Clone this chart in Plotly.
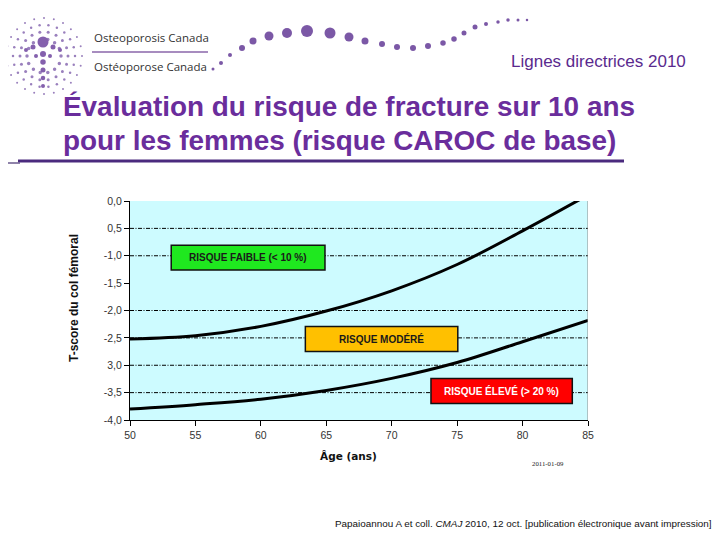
import math
import plotly.graph_objects as go

# ---------------- data ----------------
ages = [50, 55, 60, 65, 70, 75, 80, 85]
tscore_upper = [-2.52, -2.46, -2.29, -2.01, -1.64, -1.16, -0.545, 0.11]  # 10 % threshold
tscore_lower = [-3.80, -3.72, -3.62, -3.46, -3.24, -2.95, -2.57, -2.18]  # 20 % threshold

x_ticks = [50, 55, 60, 65, 70, 75, 80, 85]
y_ticks = [0.0, -0.5, -1.0, -1.5, -2.0, -2.5, -3.0, -3.5, -4.0]
y_ticklabels = ["0,0", "0,5", "-1,0", "-1,5", "-2,0", "-2,5", "3,0", "-3,5", "-4,0"]
grid_values = [-0.5, -1.0, -2.0, -2.5, -3.0, -3.5]

zone_labels = ["RISQUE FAIBLE (< 10 %)", "RISQUE MODÉRÉ", "RISQUE ÉLEVÉ (> 20 %)"]
zone_age_start = [53.15, 63.4, 73.0]
zone_age_end = [64.9, 75.05, 83.8]
zone_t_top = [-0.81, -2.29, -3.24]
zone_t_bottom = [-1.26, -2.75, -3.70]
zone_fill = ["#1fe81f", "#ffc000", "#ff0000"]
zone_text = ["#1a1a1a", "#1a1a1a", "#ffffff"]

# page is offset by the browser's 8px body margin
OFF = 8
W, H = 720 - OFF, 540 - OFF


def px(x):
    return (x - OFF) / W


def py(y):
    return 1 - (y - OFF) / H


fig = go.Figure()

fig.add_trace(go.Scatter(x=ages, y=tscore_upper, mode="lines", line=dict(color="black", width=3, shape="spline"),
                         hoverinfo="skip", showlegend=False))
fig.add_trace(go.Scatter(x=ages, y=tscore_lower, mode="lines", line=dict(color="black", width=3, shape="spline"),
                         hoverinfo="skip", showlegend=False))

shapes = []
for g in grid_values:
    shapes.append(dict(type="line", xref="x", yref="y", x0=50, x1=85, y0=g, y1=g,
                       line=dict(color="black", width=1, dash="4px,1.5px,1px,1.5px"), layer="below"))
# right border
shapes.append(dict(type="line", xref="x", yref="y", x0=85, x1=85, y0=-4, y1=0,
                   line=dict(color="#8a8a8a", width=1)))

annotations = []
for lab, x0, x1, y0, y1, fc, tc in zip(zone_labels, zone_age_start, zone_age_end, zone_t_top, zone_t_bottom,
                                       zone_fill, zone_text):
    shapes.append(dict(type="rect", xref="x", yref="y", x0=x0, x1=x1, y0=y1, y1=y0,
                       fillcolor=fc, line=dict(color="#111111", width=1.5), layer="above"))
    annotations.append(dict(x=(x0 + x1) / 2, y=(y0 + y1) / 2, xref="x", yref="y", text="<b>" + lab + "</b>",
                            showarrow=False, font=dict(family="Liberation Sans Narrow, Liberation Sans, Arial",
                                                       size=10, color=tc)))

# ---------------- header / decoration ----------------
title_color = "#6a2d9c"
annotations += [
    dict(x=px(688), y=py(62), xref="paper", yref="paper", xanchor="right", yanchor="middle",
         text="Lignes directrices 2010", showarrow=False,
         font=dict(family="Liberation Sans, Arial", size=17, color="#5a2a8e")),
    dict(x=px(61), y=py(106), xref="paper", yref="paper", xanchor="left",
         yanchor="middle", text="<b>Évaluation du risque de fracture sur 10 ans</b>",
         showarrow=False, font=dict(family="Liberation Sans, Arial", size=27.9, color=title_color)),
    dict(x=px(61), y=py(140), xref="paper", yref="paper", xanchor="left",
         yanchor="middle", text="<b>pour les femmes (risque CAROC de base)</b>",
         showarrow=False, font=dict(family="Liberation Sans, Arial", size=27.9, color=title_color)),
    dict(x=px(92), y=py(38), xref="paper", yref="paper", xanchor="left", yanchor="middle",
         text="Osteoporosis Canada", showarrow=False,
         font=dict(family="Open Sans, Noto Sans", size=11.5, color="#333333")),
    dict(x=px(92), y=py(67), xref="paper", yref="paper", xanchor="left", yanchor="middle",
         text="Ostéoporose Canada", showarrow=False,
         font=dict(family="Open Sans, Noto Sans", size=11.5, color="#333333")),
    # axis titles
    dict(x=px(348), y=py(456), xref="paper", yref="paper", xanchor="center", yanchor="middle",
         text="<b>Âge (ans)</b>", showarrow=False,
         font=dict(family="DejaVu Sans, Verdana", size=10.5, color="#111111")),
    dict(x=px(74), y=py(298), xref="paper", yref="paper", xanchor="center", yanchor="middle",
         text="<b>T-score du col fémoral</b>", showarrow=False, textangle=-90,
         font=dict(family="Liberation Sans, Arial", size=12, color="#111111")),
    dict(x=px(548), y=py(463), xref="paper", yref="paper", xanchor="center", yanchor="middle",
         text="2011-01-09", showarrow=False,
         font=dict(family="Liberation Serif, DejaVu Serif", size=6.8, color="#222222")),
    dict(x=px(716), y=py(523), xref="paper", yref="paper", xanchor="right", yanchor="middle",
         text="Papaioannou A et coll. <i>CMAJ</i> 2010, 12 oct. [publication électronique avant impression].",
         showarrow=False, font=dict(family="Liberation Sans, Arial", size=9.9, color="#111111")),
]
shapes += [
    dict(type="line", xref="paper", yref="paper", x0=px(92), x1=px(208), y0=py(52), y1=py(52),
         line=dict(color="#8a66aa", width=1.5)),
    dict(type="line", xref="paper", yref="paper", x0=px(18), x1=px(624), y0=py(161), y1=py(161),
         line=dict(color="#4a2a7e", width=3)),
    dict(type="line", xref="paper", yref="paper", x0=px(8), x1=px(20), y0=py(163), y1=py(163),
         line=dict(color="#6a5a8e", width=1.5)),
]


def dot(cx, cy, d, color):
    r = d / 2
    return dict(type="circle", xref="paper", yref="paper", x0=px(cx - r), x1=px(cx + r),
                y0=py(cy + r), y1=py(cy - r), fillcolor=color, line=dict(width=0), layer="above")


# dotted wave decoration (page pixel coordinates)
wave_x = [213, 221, 230, 242, 253, 269, 287, 307, 330, 349, 365, 382, 397, 413, 428, 443, 454, 464, 475, 486, 498,
          508, 518, 527]
wave_y = [69, 63, 55, 48, 41, 36, 33, 31, 33, 37, 41, 44, 47, 48, 46, 43, 39, 33, 27, 24, 22, 20, 20, 20]
wave_s = [3, 4, 4, 6, 7, 9, 10, 12, 11, 9, 7, 6, 6, 6, 6, 5.5, 5.5, 5, 5, 4, 3.5, 3.5, 3, 2.5]
for wx, wy, ws in zip(wave_x, wave_y, wave_s):
    shapes.append(dot(wx, wy, ws, "#7b58a6"))

# radial logo
cx, cy = 44, 56
for r, n, s in [(38, 24, 2), (31, 22, 2.5), (24, 18, 3), (17, 14, 3.5)]:
    for k in range(n):
        a = 2 * math.pi * k / n
        shapes.append(dot(cx + r * math.cos(a), cy + r * math.sin(a), s, "#9a80bd"))
body = [(43, 42, 11), (43, 54, 6), (43, 62, 5.5), (43, 70, 5), (43, 78, 4.5), (43, 86, 4),
        (33, 47, 5), (53, 47, 5), (26, 50, 4), (60, 50, 4), (36, 56, 4), (50, 56, 4)]
for bx, by, bs in body:
    shapes.append(dot(bx, by, bs, "#8460ad"))

axis_font = dict(family="Liberation Sans Narrow, Liberation Sans, Arial", size=10.5, color="#333333")
fig.update_layout(
    width=W, height=H, margin=dict(l=0, r=0, t=0, b=0, autoexpand=False),
    paper_bgcolor="white", plot_bgcolor="#cdfbff",
    showlegend=False,
    xaxis=dict(domain=[px(130), px(588)], range=[50, 85], tickvals=x_ticks, ticks="outside", ticklen=5,
               tickcolor="black", showline=True, linecolor="black", linewidth=1, showgrid=False,
               zeroline=False, tickfont=axis_font, automargin=False),
    yaxis=dict(domain=[py(420), py(201)], range=[-4, 0], tickvals=y_ticks, ticktext=y_ticklabels,
               ticks="outside", ticklen=5, tickcolor="black", showline=True, linecolor="black", linewidth=1,
               showgrid=False, zeroline=False, tickfont=axis_font, automargin=False),
    shapes=shapes, annotations=annotations,
)

fig.write_html("out.html")
